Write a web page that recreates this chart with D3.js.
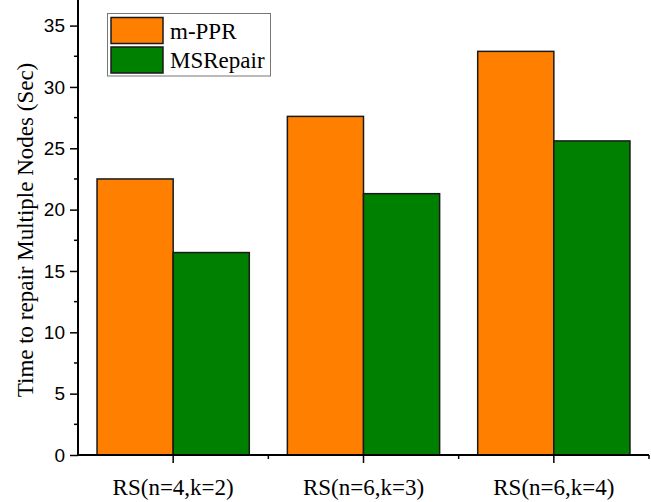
<!DOCTYPE html>
<html>
<head>
<meta charset="utf-8">
<script src="https://cdn.jsdelivr.net/npm/d3@7"></script>
<style>
  html, body { margin: 0; padding: 0; background: #fff; }
  svg { display: block; }
</style>
</head>
<body>
<svg id="chart" width="651" height="502"></svg>
<script>
const categories = ["RS(n=4,k=2)", "RS(n=6,k=3)", "RS(n=6,k=4)"];
const seriesNames = ["m-PPR", "MSRepair"];
const mPPR = [22.5, 27.6, 32.9];
const msRepair = [16.5, 21.3, 25.6];
const yTicks = [0, 5, 10, 15, 20, 25, 30, 35];
const colors = ["#FF8000", "#008000"];

const svg = d3.select("#chart");
const X0 = 78, X1 = 649, Y0 = 455;

const x = d3.scaleBand().domain(categories).range([X0, X1]).paddingInner(0).paddingOuter(0);
const y = d3.scaleLinear().domain([0, 35]).range([Y0, 25.6]);
const inner = d3.scaleBand().domain(seriesNames).range([0, x.bandwidth()]).paddingOuter(0.25).paddingInner(0);

const seriesVals = [mPPR, msRepair];

// bars
const g = svg.append("g");
categories.forEach((c, i) => {
  seriesNames.forEach((s, j) => {
    const v = seriesVals[j][i];
    g.append("rect")
      .attr("x", x(c) + inner(s))
      .attr("y", y(v))
      .attr("width", inner.bandwidth())
      .attr("height", y(0) - y(v))
      .attr("fill", colors[j])
      .attr("stroke", "#1a1a1a")
      .attr("stroke-width", 1.5);
  });
});

// y axis
const yAxis = d3.axisLeft(y).tickValues(yTicks).tickSize(8).tickPadding(5).tickFormat(d3.format("d"));
const ya = svg.append("g").attr("transform", `translate(${X0},0)`).call(yAxis);
ya.select(".domain").remove();
ya.append("line").attr("x1", 0).attr("x2", 0).attr("y1", 0).attr("y2", Y0 + 1).attr("stroke", "#000").attr("stroke-width", 2);
ya.selectAll(".tick line").attr("stroke", "#000").attr("stroke-width", 1.5);
ya.selectAll(".tick text").attr("font-family", "'Liberation Sans', Arial, sans-serif").attr("font-size", 19).attr("fill", "#000");
// minor y ticks
const minorY = d3.range(2.5, 35, 5);
ya.selectAll(".minor").data(minorY).enter().append("line")
  .attr("x1", -4).attr("x2", 0).attr("y1", d => y(d)).attr("y2", d => y(d))
  .attr("stroke", "#000").attr("stroke-width", 1.5);

// x axis
const xAxis = d3.axisBottom(x).tickSize(8).tickPadding(16);
const xa = svg.append("g").attr("transform", `translate(0,${Y0})`).call(xAxis);
xa.select(".domain").remove();
xa.append("line").attr("x1", X0 - 1).attr("x2", X1).attr("y1", 0).attr("y2", 0).attr("stroke", "#000").attr("stroke-width", 2);
xa.selectAll(".tick line").attr("stroke", "#000").attr("stroke-width", 1.5);
xa.selectAll(".tick text").attr("font-family", "'Liberation Serif', 'Times New Roman', serif").attr("font-size", 23).attr("fill", "#000");
const minorX = categories.map(c => x(c) + x.bandwidth());
xa.selectAll(".minorx").data(minorX).enter().append("line")
  .attr("x1", d => d).attr("x2", d => d).attr("y1", 0).attr("y2", 4)
  .attr("stroke", "#000").attr("stroke-width", 1.5);

// y title
svg.append("text")
  .attr("transform", `translate(33,${230}) rotate(-90)`)
  .attr("text-anchor", "middle")
  .attr("font-family", "'Liberation Serif', 'Times New Roman', serif")
  .attr("font-size", 23)
  .text("Time to repair Multiple Nodes (Sec)");

// legend
const lg = svg.append("g");
lg.append("rect").attr("x", 107.5).attr("y", 13.5).attr("width", 163).attr("height", 62.5)
  .attr("fill", "#fff").attr("stroke", "#777").attr("stroke-width", 1);
seriesNames.forEach((s, j) => {
  lg.append("rect").attr("x", 111).attr("y", 17.5 + j * 29.5).attr("width", 52).attr("height", 26)
    .attr("fill", colors[j]).attr("stroke", "#1a1a1a").attr("stroke-width", 1.5);
  lg.append("text").attr("x", 170).attr("y", 38.5 + j * 29.5)
    .attr("font-family", "'Liberation Serif', 'Times New Roman', serif")
    .attr("font-size", 23).text(s);
});
</script>
</body>
</html>
